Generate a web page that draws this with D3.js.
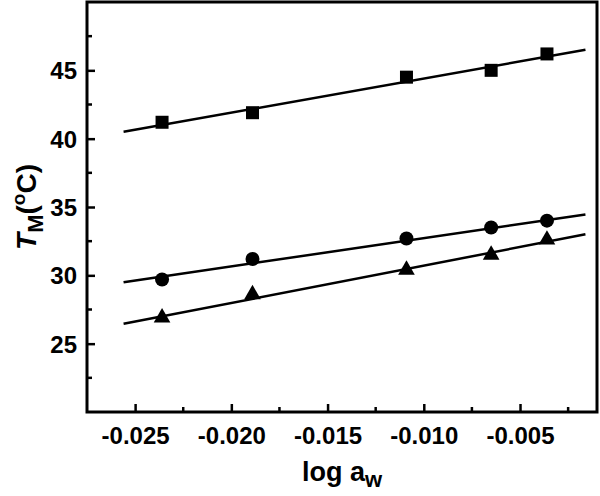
<!DOCTYPE html>
<html>
<head>
<meta charset="utf-8">
<script src="https://cdn.jsdelivr.net/npm/d3@7"></script>
<style>
  body { margin: 0; background: #fff; }
  text { font-family: "Liberation Sans", Arial, sans-serif; font-weight: bold; }
</style>
</head>
<body>
<div id="plot"></div>
<script>
var w = 600;
var h = 496;
var margin = { top: 2, right: 3, bottom: 84, left: 87 };

// Data
var logAw = [-0.0236, -0.0189, -0.0109, -0.0065, -0.0036];
var squares = [41.2, 41.9, 44.5, 45.0, 46.2];
var circles = [29.7, 31.2, 32.7, 33.5, 34.0];
var triangles = [26.9, 28.6, 30.4, 31.5, 32.6];

// fitted lines, end points
var fitX = [-0.0256, -0.0016];
var fitSquares = [40.5, 46.5];
var fitCircles = [29.5, 34.45];
var fitTriangles = [26.45, 33.0];

var xTicks = [-0.025, -0.020, -0.015, -0.010, -0.005];
var yTicks = [25, 30, 35, 40, 45];

var x = d3.scaleLinear().domain([-0.0275, -0.001]).range([margin.left, w - margin.right]);
var y = d3.scaleLinear().domain([20, 50]).range([h - margin.bottom, margin.top]);

var svg = d3.select('#plot').append('svg')
  .attr('width', w)
  .attr('height', h);

// minor ticks
var xMinor = [-0.0225, -0.0175, -0.0125, -0.0075, -0.0025];
var yMinor = [22.5, 27.5, 32.5, 37.5, 42.5, 47.5];

svg.selectAll('.xminor').data(xMinor).enter().append('line')
  .attr('x1', function (d) { return x(d); })
  .attr('x2', function (d) { return x(d); })
  .attr('y1', y(20))
  .attr('y2', y(20) - 5)
  .attr('stroke', '#000').attr('stroke-width', 2.5);

svg.selectAll('.yminor').data(yMinor).enter().append('line')
  .attr('x1', x(-0.0275))
  .attr('x2', x(-0.0275) + 5)
  .attr('y1', function (d) { return y(d); })
  .attr('y2', function (d) { return y(d); })
  .attr('stroke', '#000').attr('stroke-width', 2.5);

// axes
var xAxis = d3.axisBottom(x).tickValues(xTicks).tickSizeInner(-8).tickSizeOuter(0)
  .tickPadding(15).tickFormat(d3.format('.3f'));
var yAxis = d3.axisLeft(y).tickValues(yTicks).tickSizeInner(-8).tickSizeOuter(0)
  .tickPadding(10);

var gx = svg.append('g').attr('transform', 'translate(0,' + y(20) + ')').call(xAxis);
var gy = svg.append('g').attr('transform', 'translate(' + x(-0.0275) + ',0)').call(yAxis);

[gx, gy].forEach(function (g) {
  g.select('.domain').remove();
  g.selectAll('.tick line').attr('stroke', '#000').attr('stroke-width', 2.5);
  g.selectAll('.tick text').attr('fill', '#000').style('font-size', '24px')
    .style('font-family', '"Liberation Sans", Arial, sans-serif').style('font-weight', 'bold');
});
gx.selectAll('.tick text').text(function (d) { return d3.format('.3f')(d).replace('−', '-'); });
gy.selectAll('.tick text').attr('dy', '0.36em');

// frame
svg.append('rect')
  .attr('x', x(-0.0275))
  .attr('y', y(50))
  .attr('width', x(-0.001) - x(-0.0275))
  .attr('height', y(20) - y(50))
  .attr('fill', 'none')
  .attr('stroke', '#000')
  .attr('stroke-width', 3);

// fit lines
var fits = [fitSquares, fitCircles, fitTriangles];
svg.selectAll('.fit').data(fits).enter().append('line')
  .attr('x1', x(fitX[0]))
  .attr('x2', x(fitX[1]))
  .attr('y1', function (d) { return y(d[0]); })
  .attr('y2', function (d) { return y(d[1]); })
  .attr('stroke', '#000')
  .attr('stroke-width', 2.5);

// markers
svg.selectAll('.sq').data(squares).enter().append('rect')
  .attr('x', function (d, i) { return x(logAw[i]) - 6.5; })
  .attr('y', function (d) { return y(d) - 6.5; })
  .attr('width', 13).attr('height', 13)
  .attr('fill', '#000');

svg.selectAll('.ci').data(circles).enter().append('circle')
  .attr('cx', function (d, i) { return x(logAw[i]); })
  .attr('cy', function (d) { return y(d); })
  .attr('r', 7)
  .attr('fill', '#000');

var tri = d3.symbol().type(d3.symbolTriangle).size(120);
svg.selectAll('.tr').data(triangles).enter().append('path')
  .attr('d', tri)
  .attr('transform', function (d, i) { return 'translate(' + x(logAw[i]) + ',' + y(d) + ')'; })
  .attr('fill', '#000');

// axis titles
var xt = svg.append('text')
  .attr('x', (x(-0.0275) + x(-0.001)) / 2)
  .attr('y', 481)
  .attr('text-anchor', 'middle')
  .style('font-size', '27px');
xt.append('tspan').text('log a');
xt.append('tspan').attr('dy', 6).style('font-size', '22px').text('w');

var yt = svg.append('text')
  .attr('transform', 'translate(36,' + ((y(20) + y(50)) / 2) + ') rotate(-90)')
  .attr('text-anchor', 'middle')
  .style('font-size', '28px');
yt.append('tspan').style('font-style', 'italic').text('T');
yt.append('tspan').attr('dy', 7).style('font-size', '22px').text('M');
yt.append('tspan').attr('dy', -7).text('(');
yt.append('tspan').attr('dy', -11).style('font-size', '19px').text('o');
yt.append('tspan').attr('dy', 11).text('C)');
</script>
</body>
</html>
